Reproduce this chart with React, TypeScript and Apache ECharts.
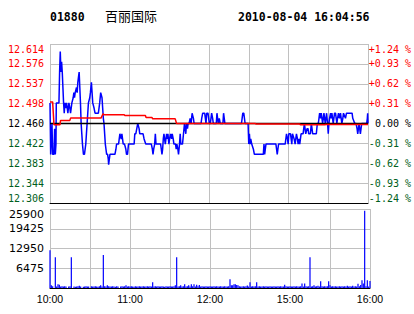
import React, { useEffect, useRef } from "react";
import * as echarts from "echarts";

const stockCode = "01880";
const stockName = "百丽国际";
const stamp = "2010-08-04 16:04:56";
const prevClose = 12.46;

const priceTicks = ["12.306", "12.344", "12.383", "12.422", "12.460", "12.498", "12.537", "12.576", "12.614"];
const pctTicks = ["-1.24 %", "-0.93 %", "-0.62 %", "-0.31 %", "0.00 %", "+0.31 %", "+0.62 %", "+0.93 %", "+1.24 %"];
const timeLabels: Record<number, string> = { 0: "10:00", 60: "11:00", 120: "12:00", 180: "15:00", 240: "16:00" };

// [trading minute since 10:00, price]
const priceAM: [number, number][] = [
  [0, 12.50], [0.5, 12.40], [1, 12.40], [1.5, 12.46], [2, 12.40], [3, 12.40], [3.5, 12.45], [4, 12.40], [4.5, 12.42],
  [4.75, 12.50], [6.75, 12.50], [7.25, 12.56], [7.75, 12.60], [8.25, 12.56], [8.75, 12.58], [9.25, 12.56], [9.75, 12.53],
  [10.25, 12.50], [10.75, 12.48], [11.25, 12.50], [11.75, 12.50], [12.25, 12.49], [12.5, 12.50], [13.5, 12.48], [14.25, 12.50],
  [15, 12.49], [15.5, 12.48], [16, 12.49], [16.5, 12.50], [17, 12.50], [17.5, 12.51], [18, 12.52], [18.5, 12.51], [19, 12.52],
  [19.5, 12.52], [20, 12.53], [20.5, 12.52], [21, 12.54], [21.5, 12.55], [22, 12.56], [22.5, 12.53], [23, 12.50], [23.5, 12.46],
  [24, 12.44], [24.5, 12.42], [25.25, 12.40], [26, 12.40], [26.5, 12.41], [27, 12.42], [27.5, 12.44], [28, 12.46], [28.5, 12.48],
  [29, 12.50], [29.5, 12.50], [30, 12.51], [30.5, 12.52], [31.25, 12.54], [31.75, 12.52], [32.25, 12.50], [32.75, 12.50],
  [33.25, 12.49], [34, 12.48], [36.5, 12.48], [37, 12.49], [37.5, 12.50], [38.25, 12.52], [38.75, 12.52], [39.25, 12.51],
  [39.75, 12.49], [40.25, 12.47], [40.75, 12.46], [41.25, 12.44], [41.75, 12.42], [42.25, 12.41], [42.75, 12.40], [43.5, 12.40],
  [44, 12.39], [44.25, 12.38], [44.75, 12.39], [45.25, 12.40], [49, 12.40], [49.75, 12.41], [50.25, 12.42], [51.75, 12.42],
  [52.25, 12.43], [52.75, 12.44], [53.25, 12.44], [53.75, 12.43], [54.25, 12.44], [54.75, 12.43], [55.25, 12.42], [56.25, 12.42],
  [57.25, 12.41], [57.75, 12.40], [58.5, 12.40], [59.25, 12.42], [63.5, 12.42], [64, 12.44], [64.75, 12.44], [65.5, 12.45],
  [66.25, 12.46], [66.75, 12.46], [67.25, 12.45], [67.75, 12.44], [70.25, 12.44], [71, 12.43], [72.25, 12.42], [76.5, 12.42],
  [77.25, 12.41], [77.75, 12.40], [78.25, 12.41], [79, 12.42], [79.5, 12.44], [80, 12.42], [83.5, 12.42], [84, 12.41],
  [84.5, 12.40], [85, 12.41], [85.5, 12.43], [86, 12.44], [86.5, 12.43], [87, 12.42], [87.5, 12.43], [88, 12.44], [88.5, 12.43],
  [89, 12.44], [89.75, 12.42], [90.25, 12.43], [91, 12.44], [91.75, 12.43], [92.25, 12.44], [93, 12.43], [93.5, 12.42],
  [94.75, 12.42], [95.25, 12.41], [95.75, 12.42], [96.5, 12.41], [97, 12.40], [97.75, 12.42], [98.25, 12.44], [98.75, 12.42],
  [100, 12.42], [100.75, 12.44], [101.5, 12.46], [102, 12.45], [102.5, 12.44], [103, 12.46], [103.75, 12.45], [104.25, 12.46],
  [105, 12.46], [105.75, 12.47], [106.5, 12.46], [107.25, 12.48], [107.75, 12.48], [108.25, 12.47], [108.75, 12.46],
  [114, 12.46], [114.5, 12.47], [115.25, 12.48], [116.75, 12.48], [117.25, 12.47], [117.75, 12.46], [118.25, 12.48],
  [119.25, 12.48], [119.75, 12.47], [120.25, 12.46], [121, 12.46], [121.5, 12.47], [122, 12.48], [122.75, 12.47], [123.25, 12.46],
  [125.5, 12.46], [126, 12.48], [126.5, 12.47], [127, 12.46], [127.75, 12.47], [128.5, 12.46], [130.5, 12.46], [131, 12.48],
  [131.5, 12.47], [132, 12.46], [144.5, 12.46], [145, 12.47], [145.5, 12.48], [146.25, 12.48], [146.75, 12.47], [147.25, 12.46],
  [149.5, 12.46],
];

const pricePM: [number, number][] = [
  [149.75, 12.44], [150, 12.42], [150.5, 12.44], [151, 12.42], [151.5, 12.43], [152.25, 12.42], [152.75, 12.42], [153.5, 12.41],
  [154.25, 12.40], [161, 12.40], [161.5, 12.42], [162, 12.40], [162.5, 12.41], [163, 12.42], [170.5, 12.42], [171, 12.41],
  [171.5, 12.40], [172, 12.41], [172.5, 12.42], [177.5, 12.42], [178.5, 12.44], [179.25, 12.43], [179.75, 12.42], [180.25, 12.44],
  [181.5, 12.44], [182, 12.43], [182.5, 12.42], [183, 12.44], [183.5, 12.44], [184.25, 12.43], [185, 12.42], [185.5, 12.43],
  [186, 12.44], [186.75, 12.43], [187.25, 12.42], [188, 12.43], [188.5, 12.42], [189, 12.43], [189.5, 12.44], [191, 12.44],
  [191.5, 12.45], [192, 12.46], [192.5, 12.45], [193, 12.44], [194, 12.45], [194.75, 12.45], [195.25, 12.44], [196.5, 12.44],
  [197.25, 12.46], [197.75, 12.45], [198.25, 12.44], [201, 12.44], [201.75, 12.46], [202.5, 12.46], [203, 12.47], [203.5, 12.48],
  [204.25, 12.47], [204.75, 12.48], [205.25, 12.47], [205.75, 12.46], [206.25, 12.47], [206.75, 12.48], [207.25, 12.47],
  [207.75, 12.46], [208.25, 12.47], [208.75, 12.48], [209.5, 12.46], [210, 12.44], [210.5, 12.46], [211, 12.47], [211.75, 12.48],
  [212.25, 12.47], [212.75, 12.48], [213.25, 12.47], [213.75, 12.46], [214.25, 12.47], [214.75, 12.48], [215.5, 12.48],
  [216, 12.47], [216.5, 12.46], [217, 12.47], [217.75, 12.48], [218.5, 12.47], [219.25, 12.48], [219.75, 12.47], [220.25, 12.46],
  [221, 12.47], [221.5, 12.48], [223, 12.47], [223.75, 12.48], [228, 12.48], [228.5, 12.47], [230, 12.46], [231, 12.46],
  [231.75, 12.45], [232.25, 12.44], [232.75, 12.45], [233.25, 12.46], [233.75, 12.45], [234.25, 12.44], [234.75, 12.45],
  [235.25, 12.46], [239, 12.46], [239.5, 12.47], [239.75, 12.48], [240, 12.46],
];

const avgPrice: [number, number][] = [
  [0, 12.502], [2, 12.502], [3, 12.4575], [7.5, 12.4575], [8, 12.466], [15, 12.466], [15.5, 12.4705], [38.5, 12.4705],
  [40, 12.479], [41, 12.477], [56, 12.477], [56.5, 12.4755], [72, 12.4755], [72.5, 12.4717], [77, 12.4717], [77.5, 12.469],
  [94.5, 12.469], [95.5, 12.46], [155, 12.46], [155.5, 12.4588], [188.5, 12.4588], [189, 12.4575], [207.5, 12.4575],
  [208, 12.458], [240, 12.458],
];

const volumeAM = [
  12400, 900, 600, 0, 10100, 500, 1200, 1100, 500, 600,
  500, 600, 500, 0, 500, 600, 10100, 0, 500, 400,
  500, 600, 700, 500, 0, 400, 500, 600, 500, 500,
  0, 600, 500, 500, 600, 500, 400, 600, 900, 500,
  10800, 600, 500, 900, 600, 500, 500, 600, 500, 400,
  600, 500, 0, 500, 600, 500, 600, 900, 500, 600,
  500, 600, 500, 400, 600, 500, 500, 600, 500, 500,
  600, 500, 500, 600, 500, 600, 500, 1900, 500, 600,
  500, 600, 500, 500, 600, 500, 400, 600, 500, 500,
  600, 500, 500, 600, 900, 10100, 500, 600, 900, 500,
  600, 1200, 500, 600, 900, 500, 1200, 600, 1200, 500,
  1100, 600, 1000, 500, 600, 500, 500, 600, 500, 500,
  600, 500, 500, 600, 500, 600, 500, 500, 600, 500,
  500, 600, 500, 500, 600, 2900, 900, 900, 1200, 1200,
  1000, 900, 600, 500, 500, 600, 500, 600, 800, 500,
];
const volumePM = [
  1900, 500, 600, 500, 600, 1900, 500, 600, 500, 500,
  600, 500, 600, 500, 500, 600, 500, 500, 600, 500,
  500, 600, 500, 600, 500, 500, 1100, 600, 500, 500,
  600, 500, 500, 600, 500, 600, 500, 500, 600, 1500,
  500, 1500, 600, 500, 600, 10100, 500, 600, 900, 500,
  600, 700, 500, 2200, 600, 500, 600, 500, 600, 2200,
  900, 500, 600, 500, 600, 500, 500, 600, 500, 600,
  500, 600, 500, 700, 500, 600, 500, 700, 500, 600,
  500, 1400, 600, 1000, 2500, 1500, 25300, 600, 2500, 500,
  2300,
];
const volumeTicks: Record<number, string> = { 6475: "6475", 12950: "12950", 19425: "19425", 25900: "25900" };

const RED = "#FF0000";
const GREEN = "#005E20";
const GRID = "#C0C0C0";
const toPct = (p: number) => +(((p / prevClose) - 1) * 100).toFixed(4);
const tickIndex = (v: number) => Math.round(v / 0.31) + 4;
const labelColor = (v: any) => {
  const n = parseFloat(v);
  return n > 0.001 ? RED : n < -0.001 ? GREEN : "#000000";
};

export default function App() {
  const ref = useRef<HTMLDivElement>(null);
  useEffect(() => {
    if (!ref.current) return;
    const chart = echarts.init(ref.current, undefined, { renderer: "svg" });
    const volume = [...volumeAM, ...volumePM].map((v, i) => [i, v]);
    const price = [...priceAM, ...pricePM].map(([m, p]) => [m, toPct(p)]);
    const avg = avgPrice.map(([m, p]) => [m, toPct(p)]);
    const xCommon = {
      type: "value",
      min: 0,
      max: 240,
      interval: 30,
      axisLine: { show: true, onZero: false, lineStyle: { color: "#000", width: 1 } },
      axisTick: { show: false },
      splitLine: { show: true, lineStyle: { color: GRID, width: 1 } },
    };
    chart.setOption({
      animation: false,
      backgroundColor: "#FFFFFF",
      grid: [
        { left: 50, top: 44, width: 320, height: 159 },
        { left: 50, top: 209, width: 320, height: 79 },
      ],
      xAxis: [
        { ...xCommon, gridIndex: 0, axisLabel: { show: false } },
        {
          ...xCommon,
          gridIndex: 1,
          axisLabel: {
            show: true,
            margin: 5,
            color: "#000",
            fontFamily: "Liberation Sans",
            fontSize: 10.5,
            formatter: (v: number) => timeLabels[v] ?? "",
          },
        },
      ],
      yAxis: [
        {
          type: "value",
          gridIndex: 0,
          position: "left",
          min: -1.24,
          max: 1.24,
          interval: 0.31,
          axisLine: { show: false },
          axisTick: { show: false },
          splitLine: { show: true, lineStyle: { color: GRID, width: 1 } },
          axisLabel: {
            margin: 6,
            fontFamily: "DejaVu Sans Mono",
            fontSize: 10,
            color: labelColor,
            verticalAlignMaxLabel: "top",
            verticalAlignMinLabel: "bottom",
            formatter: (v: number) => priceTicks[tickIndex(v)] ?? "",
          },
        },
        {
          type: "value",
          gridIndex: 0,
          position: "right",
          min: -1.24,
          max: 1.24,
          interval: 0.31,
          axisLine: { show: false },
          axisTick: { show: false },
          splitLine: { show: false },
          axisLabel: {
            margin: 43,
            align: "right",
            fontFamily: "DejaVu Sans Mono",
            fontSize: 10,
            color: labelColor,
            verticalAlignMaxLabel: "top",
            verticalAlignMinLabel: "bottom",
            formatter: (v: number) => pctTicks[tickIndex(v)] ?? "",
          },
        },
        {
          type: "value",
          gridIndex: 1,
          min: 0,
          max: 25900,
          interval: 6475,
          axisLine: { show: false },
          axisTick: { show: false },
          splitLine: { show: true, lineStyle: { color: GRID, width: 1 } },
          axisLabel: {
            margin: 6,
            color: "#000",
            fontFamily: "DejaVu Sans",
            fontSize: 11,
            verticalAlignMaxLabel: "top",
            formatter: (v: number) => volumeTicks[Math.round(v)] ?? "",
          },
        },
      ],
      series: [
        {
          type: "line",
          xAxisIndex: 0,
          yAxisIndex: 0,
          data: price,
          showSymbol: false,
          symbol: "none",
          z: 2,
          lineStyle: { color: "#0000FF", width: 1.5 },
        },
        {
          type: "line",
          xAxisIndex: 0,
          yAxisIndex: 0,
          data: [[0, toPct(prevClose)], [240, toPct(prevClose)]],
          showSymbol: false,
          symbol: "none",
          z: 3,
          lineStyle: { color: "#000000", width: 1.5 },
        },
        {
          type: "line",
          xAxisIndex: 0,
          yAxisIndex: 0,
          data: avg,
          showSymbol: false,
          symbol: "none",
          z: 4,
          lineStyle: { color: RED, width: 1.5 },
        },
        {
          type: "bar",
          xAxisIndex: 1,
          yAxisIndex: 2,
          data: volume,
          barWidth: 1.2,
          itemStyle: { color: "#0000FF" },
        },
      ],
      graphic: [
        { type: "text", x: 50, y: 17, style: { text: stockCode, font: 'bold 11.5px "DejaVu Sans Mono"', fill: "#000", verticalAlign: "middle" } },
        { type: "text", x: 105, y: 15.5, style: { text: stockName, font: '13px "Noto Sans CJK SC"', fill: "#000", verticalAlign: "middle" } },
        { type: "text", x: 238, y: 17, style: { text: stamp, font: 'bold 11.5px "DejaVu Sans Mono"', fill: "#000", verticalAlign: "middle" } },
      ],
    });
    return () => chart.dispose();
  }, []);
  return (
    <div
      ref={ref}
      style={{ position: "absolute", left: 0, top: 0, width: 414, height: 314, background: "#fff" }}
    />
  );
}
